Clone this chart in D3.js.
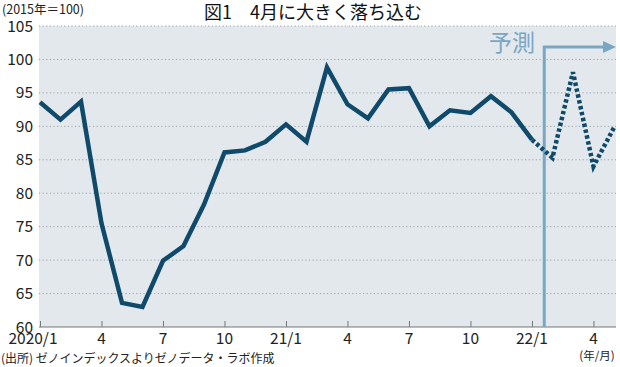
<!DOCTYPE html>
<html>
<head>
<meta charset="utf-8">
<script src="https://cdn.jsdelivr.net/npm/d3@7"></script>
<style>
  body { margin: 0; background: #fff; }
  svg { display: block; font-family: "Noto Sans CJK JP", "Noto Sans", sans-serif; }
  .grid line { stroke: #9aa3aa; stroke-dasharray: 1.2 2.4; }
</style>
</head>
<body>
<svg id="chart" width="620" height="367"></svg>
<script>
// index values, 2015 = 100 (month 0 = 2020/1)
var actual = [93.6, 91.0, 93.7, 75.5, 63.6, 63.0, 69.9, 72.1, 78.3, 86.1, 86.4, 87.7,
              90.3, 87.7, 98.8, 93.3, 91.2, 95.5, 95.7, 90.0, 92.4, 92.0, 94.5, 92.1, 88.0];
var forecast = [88.0, 85.3, 98.1, 84.0, 89.8];   // 2022/1 .. 2022/5
var forecastStart = 24;
var predLine = 24.6;          // where the 予測 marker sits (month index)
var xTicks = [0, 3, 6, 9, 12, 15, 18, 21, 24, 27];
var xTickLabels = ["2020/1", "4", "7", "10", "21/1", "4", "7", "10", "22/1", "4"];
var yTicks = [60, 65, 70, 75, 80, 85, 90, 95, 100, 105];

var svg = d3.select('#chart');
// note: "top" is reserved on window, so use pTop etc.
var pLeft = 39, pRight = 616, pTop = 26, pBottom = 327;

var x = d3.scaleLinear().domain([0, 28.1]).range([40, pRight]);
var y = d3.scaleLinear().domain([60, 105]).range([pBottom, pTop]);

// background panel
svg.append('rect')
    .attr('x', pLeft).attr('y', pTop)
    .attr('width', pRight - pLeft).attr('height', pBottom - pTop)
    .attr('fill', '#e3e8ed');

// horizontal grid
svg.append('g').attr('class', 'grid')
    .selectAll('line').data(yTicks.filter(function(d){ return d > 60; }))
    .enter().append('line')
    .attr('x1', pLeft).attr('x2', pRight)
    .attr('y1', function(d){ return y(d); })
    .attr('y2', function(d){ return y(d); });

// y labels
svg.append('g').selectAll('text').data(yTicks)
    .enter().append('text')
    .attr('x', 33).attr('y', function(d){ return y(d) + 5.5; })
    .attr('text-anchor', 'end')
    .attr('font-size', 15.5).attr('fill', '#222')
    .text(function(d){ return d; });

// x axis
var xAxis = d3.axisBottom(x).tickValues(xTicks).tickSize(-6).tickFormat('');
var axisX = svg.append('g')
    .attr('transform', 'translate(0,' + pBottom + ')')
    .call(xAxis);
axisX.select('.domain').attr('d', 'M' + pLeft + ',0H' + pRight).attr('stroke', '#777').attr('stroke-width', 1.2);
axisX.selectAll('.tick line').attr('stroke', '#777');

svg.append('g').selectAll('text').data(xTicks)
    .enter().append('text')
    .attr('x', function(d, i){ return x(d) + (i === 0 ? -7 : 0); })
    .attr('y', 344)
    .attr('text-anchor', 'middle')
    .attr('font-size', 15.5).attr('fill', '#222')
    .text(function(d, i){ return xTickLabels[i]; });

// prediction marker
var pc = '#79a7c3';
var px = x(predLine), py = 47;
svg.append('path')
    .attr('d', 'M' + px + ',' + pBottom + 'V' + py + 'H' + (pRight - 11))
    .attr('fill', 'none').attr('stroke', pc).attr('stroke-width', 3);
svg.append('path')
    .attr('d', 'M' + (pRight - 13) + ',' + (py - 6) + 'L' + pRight + ',' + py + 'L' + (pRight - 13) + ',' + (py + 6) + 'Z')
    .attr('fill', pc);
svg.append('text')
    .attr('x', 512).attr('y', 51)
    .attr('text-anchor', 'middle')
    .attr('font-size', 23).attr('fill', pc)
    .text('予測');

// lines
var line = d3.line()
    .x(function(d){ return x(d.i); })
    .y(function(d){ return y(d.v); });

svg.append('clipPath').attr('id', 'clip')
    .append('rect').attr('x', pLeft).attr('y', 0).attr('width', pRight - pLeft).attr('height', pBottom);

svg.append('path')
    .datum(actual.map(function(v, i){ return {i: i, v: v}; }))
    .attr('d', line)
    .attr('fill', 'none').attr('stroke', '#0f4a6b').attr('stroke-width', 4.5)
    .attr('stroke-linejoin', 'miter');

svg.append('path')
    .datum(forecast.map(function(v, i){ return {i: forecastStart + i, v: v}; }))
    .attr('d', line)
    .attr('clip-path', 'url(#clip)')
    .attr('fill', 'none').attr('stroke', '#0f4a6b').attr('stroke-width', 4.5)
    .attr('stroke-dasharray', '3.5 2.5');

// texts
svg.append('text')
    .attr('x', 2).attr('y', 14)
    .attr('font-size', 12.5).attr('fill', '#222')
    .text('(2015年＝100)');

svg.append('text')
    .attr('x', 313).attr('y', 19)
    .attr('text-anchor', 'middle')
    .attr('font-size', 18).attr('fill', '#111')
    .text('図1　4月に大きく落ち込む');

svg.append('text')
    .attr('x', 597).attr('y', 360)
    .attr('text-anchor', 'middle')
    .attr('font-size', 11.5).attr('fill', '#222')
    .text('(年/月)');

svg.append('text')
    .attr('x', 1).attr('y', 363)
    .attr('font-size', 12).attr('fill', '#222')
    .text('(出所) ゼノインデックスよりゼノデータ・ラボ作成');
</script>
</body>
</html>
